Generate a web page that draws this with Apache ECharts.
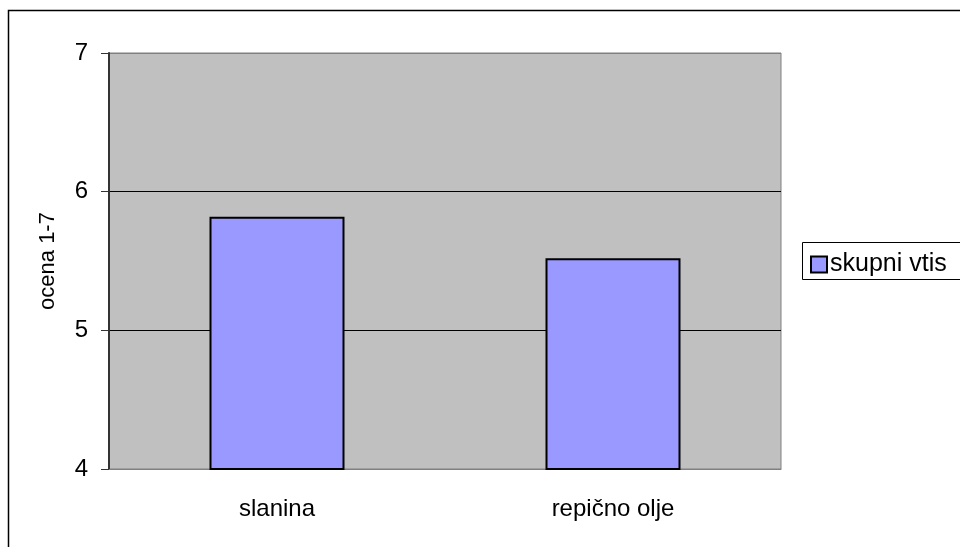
<!DOCTYPE html>
<html>
<head>
<meta charset="utf-8">
<script src="https://cdn.jsdelivr.net/npm/echarts@6/dist/echarts.min.js"></script>
<style>
html, body { margin: 0; padding: 0; background: #fff; }
#chart { width: 960px; height: 547px; }
</style>
</head>
<body>
<div id="chart"></div>
<script>
// podatki
var categories = ['slanina', 'repično olje'];
var skupniVtis = [5.82, 5.52];
var seriesName = 'skupni vtis';
var yTitle = 'ocena 1-7';

var chart = echarts.init(document.getElementById('chart'));

var option = {
    backgroundColor: '#fff',
    animation: false,
    textStyle: { fontFamily: 'Liberation Sans, Arial, sans-serif' },
    graphic: [
        {   // okvir celotne slike
            type: 'rect',
            shape: { x: 8.5, y: 10.5, width: 1000, height: 1000 },
            style: { fill: 'none', stroke: '#000', lineWidth: 1.5 },
            silent: true
        },
        {   // okvir legende
            type: 'rect',
            shape: { x: 802.5, y: 242.5, width: 200, height: 37 },
            style: { fill: '#fff', stroke: '#000', lineWidth: 1 },
            silent: true,
            z: 0
        }
    ],
    legend: {
        data: [seriesName],
        left: 810,
        top: 252,
        itemWidth: 16,
        itemHeight: 16,
        itemGap: 0,
        icon: 'rect',
        padding: 0,
        textStyle: { fontSize: 25, color: '#000', padding: [0, 0, 0, -2] },
        z: 10
    },
    grid: {
        left: 109,
        top: 53,
        right: 179,
        bottom: 78,
        show: true,
        backgroundColor: '#C0C0C0',
        borderColor: '#808080',
        borderWidth: 1
    },
    xAxis: {
        type: 'category',
        data: categories,
        axisLine: { lineStyle: { color: '#808080', width: 1 } },
        axisTick: { show: false },
        axisLabel: { fontSize: 24, color: '#000', margin: 28 }
    },
    yAxis: {
        type: 'value',
        min: 4,
        max: 7,
        interval: 1,
        name: yTitle,
        nameLocation: 'middle',
        nameGap: 50,
        nameTextStyle: { fontSize: 22, color: '#000' },
        axisLine: { show: true, lineStyle: { color: '#333', width: 2 } },
        axisTick: { show: true, length: 8, lineStyle: { color: '#333' } },
        axisLabel: { fontSize: 24, color: '#000', margin: 21 },
        splitLine: { show: true, lineStyle: { color: ['#808080', '#000', '#000', '#808080'], width: 1 } }
    },
    series: [
        {
            name: seriesName,
            type: 'bar',
            data: skupniVtis,
            barWidth: 135,
            itemStyle: { color: '#9999FF', borderColor: '#000', borderWidth: 2 }
        }
    ]
};

chart.setOption(option);
</script>
</body>
</html>
